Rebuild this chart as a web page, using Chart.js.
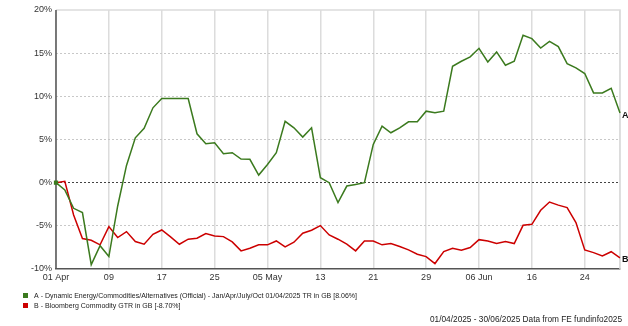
<!DOCTYPE html>
<html>
<head>
<meta charset="utf-8">
<script src="https://cdn.jsdelivr.net/npm/chart.js@4.4.1/dist/chart.umd.min.js"></script>
<style>
  html, body { margin: 0; padding: 0; background: #fff; }
  #wrap { width: 628px; height: 326px; }
</style>
</head>
<body>
<div id="wrap"><canvas id="perf_chart" width="628" height="326"></canvas></div>
<script>
// trading days, 01/04/2025 - 30/06/2025
var dates = [
    "01 Apr","02 Apr","03 Apr","04 Apr","07 Apr","08 Apr","09 Apr","10 Apr","11 Apr","14 Apr","15 Apr",
    "16 Apr","17 Apr","18 Apr","21 Apr","22 Apr","23 Apr","24 Apr","25 Apr","28 Apr","29 Apr","30 Apr",
    "01 May","02 May","05 May","06 May","07 May","08 May","09 May","12 May","13 May","14 May","15 May",
    "16 May","19 May","20 May","21 May","22 May","23 May","26 May","27 May","28 May","29 May","30 May",
    "02 Jun","03 Jun","04 Jun","05 Jun","06 Jun","09 Jun","10 Jun","11 Jun","12 Jun","13 Jun","16 Jun",
    "17 Jun","18 Jun","19 Jun","20 Jun","23 Jun","24 Jun","25 Jun","26 Jun","27 Jun","30 Jun"
];

var fundReturns = [
    0, -0.85, -2.97, -3.47, -9.5, -7.3, -8.56, -2.7, 2.0, 5.2, 6.3,
    8.67, 9.75, 9.75, 9.75, 9.75, 5.66, 4.5, 4.62, 3.35, 3.47, 2.73,
    2.7, 0.88, 2.1, 3.47, 7.1, 6.35, 5.28, 6.35, 0.58, 0, -2.31,
    -0.39, -0.2, 0, 4.43, 6.55, 5.78, 6.35, 7.05, 7.05, 8.28, 8.09,
    8.28, 13.48, 14.06, 14.57, 15.56, 13.98, 15.14, 13.6, 14.06, 17.07, 16.68,
    15.6, 16.37, 15.76, 13.79, 13.3, 12.64, 10.4, 10.4, 10.94, 8.06
];

var indexReturns = [
    0, 0.15, -3.74, -6.48, -6.67, -7.2, -5.09, -6.36, -5.67, -6.82, -7.13,
    -5.98, -5.48, -6.28, -7.13, -6.55, -6.44, -5.9, -6.17, -6.25, -6.86, -7.9,
    -7.6, -7.2, -7.2, -6.75, -7.44, -6.9, -5.86, -5.51, -4.97, -6.05, -6.55,
    -7.13, -7.9, -6.75, -6.75, -7.2, -7.05, -7.4, -7.79, -8.29, -8.56, -9.37,
    -7.98, -7.6, -7.83, -7.52, -6.6, -6.75, -7.05, -6.82, -7.05, -4.94, -4.82,
    -3.2, -2.24, -2.6, -2.89, -4.62, -7.79, -8.1, -8.48, -8.0, -8.7
];

var seriesNames = [
    "A - Dynamic Energy/Commodities/Alternatives (Official) - Jan/Apr/July/Oct 01/04/2025 TR in GB",
    "B - Bloomberg Commodity GTR in GB"
];
var seriesTags = ["A", "B"];
var seriesColors = ["#3b7a1e", "#cc0000"];
var footerText = "01/04/2025 - 30/06/2025 Data from FE fundinfo2025";

var TICK_EVERY = 6;
var FONT = "'Liberation Sans', Arial, sans-serif";

// x tick text: day, plus month name when the month changes
var tickLabel = function (i) {
    if (i % TICK_EVERY !== 0) return "";
    let parts = dates[i].split(" ");
    if (i === 0) return dates[i];
    let prev = dates[i - TICK_EVERY].split(" ");
    return prev[1] !== parts[1] ? dates[i] : parts[0];
};

var framePlugin = {
    id: "frame",
    beforeDatasetsDraw: function (chart) {
        let a = chart.chartArea;
        let ctx = chart.ctx;
        ctx.save();
        ctx.strokeStyle = "#dcdcdc";
        ctx.lineWidth = 1.5;
        ctx.beginPath();
        ctx.moveTo(a.left, a.top);
        ctx.lineTo(a.right, a.top);
        ctx.lineTo(a.right, a.bottom);
        ctx.stroke();
        // solid value axis (the y grid is dashed, so its border would be too)
        ctx.strokeStyle = "#555";
        ctx.beginPath();
        ctx.moveTo(a.left, a.top);
        ctx.lineTo(a.left, a.bottom);
        ctx.stroke();
        ctx.restore();
    }
};

var annotatePlugin = {
    id: "annotate",
    afterDraw: function (chart) {
        let ctx = chart.ctx;
        ctx.save();
        // end-of-line tags
        ctx.font = "bold 9px " + FONT;
        ctx.fillStyle = "#111";
        ctx.textBaseline = "middle";
        ctx.textAlign = "left";
        chart.data.datasets.forEach(function (ds, k) {
            let pts = chart.getDatasetMeta(k).data;
            let last = pts[pts.length - 1];
            ctx.fillText(seriesTags[k], last.x + 2, last.y + 2);
        });

        // legend, squeezed to the same narrow width for both rows
        ctx.font = "8px " + FONT;
        let firstTxt = chart.data.datasets[0].label + " [" + fundReturns[fundReturns.length - 1].toFixed(2) + "%]";
        let squeeze = 323 / ctx.measureText(firstTxt).width;
        chart.data.datasets.forEach(function (ds, k) {
            let y = 296 + k * 10;
            let v = ds.data[ds.data.length - 1];
            ctx.fillStyle = seriesColors[k];
            ctx.fillRect(23, y - 3, 5, 5);
            ctx.fillStyle = "#222";
            let txt = ds.label + " [" + v.toFixed(2) + "%]";
            ctx.save();
            ctx.translate(34, y);
            ctx.scale(squeeze, 1);
            ctx.fillText(txt, 0, 0);
            ctx.restore();
        });

        // source line
        ctx.font = "9px " + FONT;
        ctx.textAlign = "right";
        ctx.fillStyle = "#222";
        ctx.fillText(footerText, 622, 320, 192);
        ctx.restore();
    }
};

var datasets = [];
[fundReturns, indexReturns].forEach(function (vals, k) {
    datasets.push({
        label: seriesNames[k],
        data: vals,
        borderColor: seriesColors[k],
        backgroundColor: seriesColors[k],
        borderWidth: 1.5,
        tension: 0,
        fill: false,
        pointStyle: "rect",
        pointRadius: function (c) { return (k === 0 && c.dataIndex === 0) ? 3 : 0; },
        pointBorderWidth: 0
    });
});

var chart = new Chart(document.getElementById("perf_chart").getContext("2d"), {
    type: "line",
    data: { labels: dates, datasets: datasets },
    options: {
        responsive: false,
        animation: false,
        layout: { padding: { left: 0, right: 8, top: 10, bottom: 37 } },
        plugins: {
            legend: { display: false },
            tooltip: { enabled: false }
        },
        scales: {
            x: {
                type: "category",
                offset: false,
                afterFit: function (s) { s.height = 20; },
                border: { display: true, color: "#555", width: 1.5 },
                grid: {
                    offset: false,
                    drawTicks: false,
                    lineWidth: 1.5,
                    color: function (c) {
                        return (c.index % TICK_EVERY === 0 || c.index === dates.length - 1) ? "#dcdcdc" : "rgba(0,0,0,0)";
                    }
                },
                ticks: {
                    autoSkip: false,
                    maxRotation: 0,
                    padding: 3,
                    color: "#333",
                    font: { family: FONT, size: 9 },
                    callback: function (v, i) { return tickLabel(i); }
                }
            },
            y: {
                min: -10,
                max: 20,
                afterFit: function (s) { s.width = 56; },
                border: { display: false, dash: [2, 2] },
                grid: {
                    drawTicks: false,
                    lineWidth: 1,
                    color: function (c) {
                        let v = c.tick.value;
                        if (v === 0) return "#444";
                        if (v === 20 || v === -10) return "rgba(0,0,0,0)";
                        return "#c8c8c8";
                    }
                },
                ticks: {
                    stepSize: 5,
                    padding: 4,
                    color: "#333",
                    font: { family: FONT, size: 9 },
                    callback: function (v) { return v + "%"; }
                }
            }
        }
    },
    plugins: [framePlugin, annotatePlugin]
});
</script>
</body>
</html>
